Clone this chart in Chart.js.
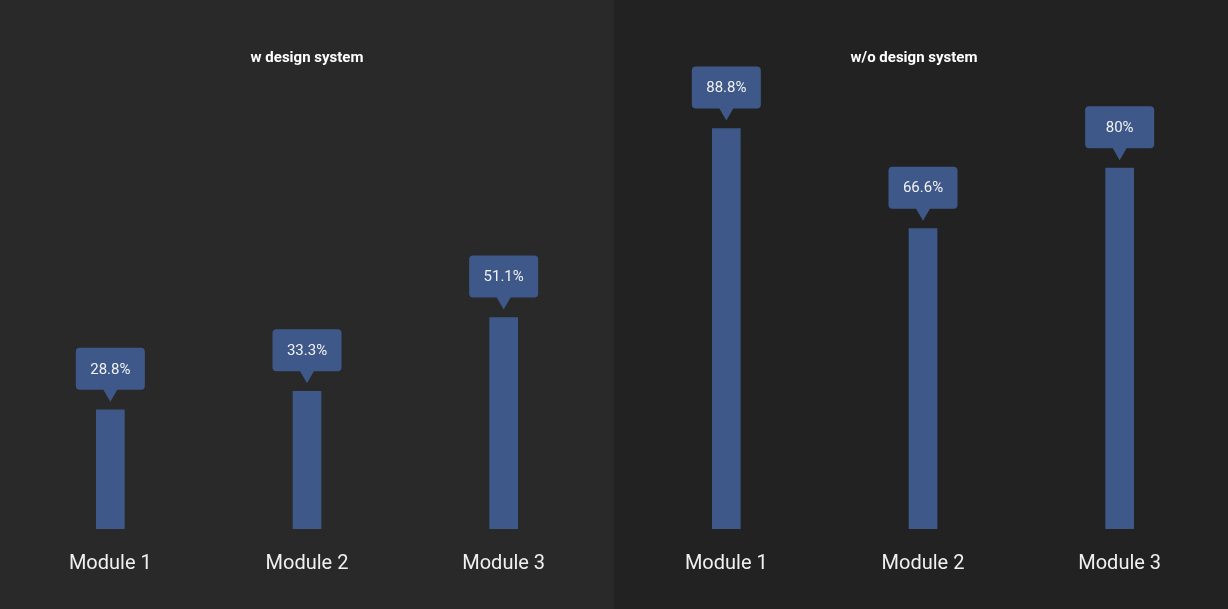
<!DOCTYPE html>
<html>
<head>
<meta charset="utf-8">
<script src="https://cdn.jsdelivr.net/npm/chart.js@4"></script>
<style>
  html, body { margin: 0; padding: 0; }
  body { width: 1228px; height: 609px; display: flex; overflow: hidden; font-family: Roboto, sans-serif; }
  .panel { position: relative; width: 614px; height: 609px; }
  #leftPanel { background: #292929; }
  #rightPanel { background: #222222; }
</style>
</head>
<body>
<div class="panel" id="leftPanel"><canvas id="chartWith"></canvas></div>
<div class="panel" id="rightPanel"><canvas id="chartWithout"></canvas></div>
<script>
// ===================================
// DATA
// ===================================

const modules = ['Module 1', 'Module 2', 'Module 3'];
const withDesignSystem = [28.8, 33.3, 51.1];
const withoutDesignSystem = [88.8, 66.6, 80];

const BAR_COLOR = '#3e5989';

// panel heading, drawn above the plot area
const panelTitlePlugin = {
  id: 'panelTitle',
  afterDraw(chart, args, opts) {
    const ctx = chart.ctx;
    ctx.save();
    ctx.fillStyle = '#ffffff';
    ctx.font = 'bold 15px Roboto';
    ctx.textAlign = 'center';
    ctx.textBaseline = 'middle';
    ctx.fillText(opts.text, chart.width / 2 + (opts.offsetX || 0), 58);
    ctx.restore();
  }
};

// draws the little speech-bubble label above every bar
const calloutPlugin = {
  id: 'callout',
  afterDatasetsDraw(chart) {
    const ctx = chart.ctx;
    const meta = chart.getDatasetMeta(0);
    const values = chart.data.datasets[0].data;
    const boxW = 69, boxH = 42, tipH = 12, tipW = 15, gap = 8, r = 4;

    ctx.save();
    meta.data.forEach((bar, i) => {
      const x = bar.x;
      const tipY = bar.y - gap;
      const bottom = tipY - tipH;
      const top = bottom - boxH;
      const left = x - boxW / 2;

      ctx.fillStyle = BAR_COLOR;
      ctx.beginPath();
      ctx.roundRect(left, top, boxW, boxH, r);
      ctx.fill();

      ctx.beginPath();
      ctx.moveTo(x - tipW / 2, bottom - 1);
      ctx.lineTo(x + tipW / 2, bottom - 1);
      ctx.lineTo(x, tipY);
      ctx.closePath();
      ctx.fill();

      ctx.fillStyle = '#f2f2f2';
      ctx.font = '15px Roboto';
      ctx.textAlign = 'center';
      ctx.textBaseline = 'middle';
      ctx.fillText(values[i] + '%', x, top + boxH / 2 + 1);
    });
    ctx.restore();
  }
};

function makeChart(canvasId, title, values, yMax, pad, titleOffset) {
  return new Chart(document.getElementById(canvasId), {
    type: 'bar',
    data: {
      labels: modules,
      datasets: [{
        data: values,
        backgroundColor: BAR_COLOR,
        borderWidth: 0,
        barThickness: 28
      }]
    },
    options: {
      responsive: true,
      maintainAspectRatio: false,
      animation: false,
      layout: {
        padding: { left: pad[0], right: pad[1], top: 78, bottom: 10 }
      },
      plugins: {
        legend: { display: false },
        tooltip: { enabled: false },
        title: { display: false },
        panelTitle: { text: title, offsetX: titleOffset }
      },
      scales: {
        x: {
          grid: { display: false, drawTicks: false },
          border: { display: false },
          ticks: {
            color: '#f0f0f0',
            padding: 23,
            font: { family: 'Roboto', size: 20 }
          }
        },
        y: {
          display: false,
          min: 0,
          max: yMax
        }
      }
    },
    plugins: [calloutPlugin, panelTitlePlugin]
  });
}

makeChart('chartWith', 'w design system', withDesignSystem, 109, [12, 12], 0);
makeChart('chartWithout', 'w/o design system', withoutDesignSystem, 100, [14, 10], -7);
</script>
</body>
</html>
